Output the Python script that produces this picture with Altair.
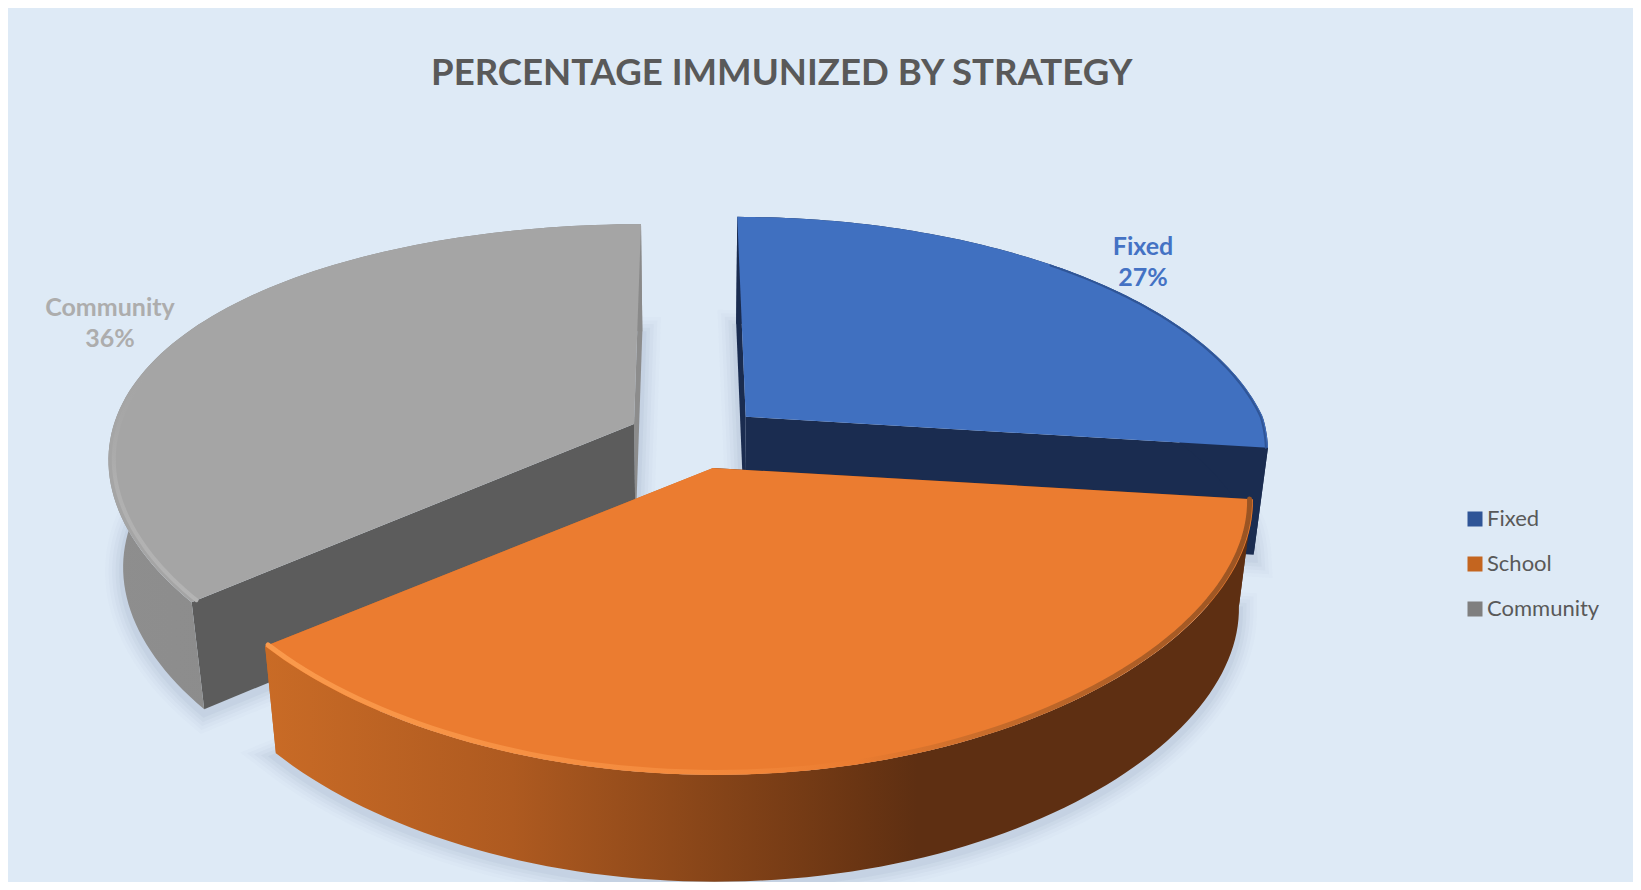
import math
import altair as alt
import pandas as pd

# ---- values
categories = ["Fixed", "School", "Community"]
shares = [27, 37, 36]
labelled = ["Fixed", "Community"]
title_text = "PERCENTAGE IMMUNIZED BY STRATEGY"

# ---- style
top_colors = ["#4070C0", "#EB7C30", "#A5A5A5"]
label_colors = {"Fixed": "#4472C4", "Community": "#ADADAD"}
apex = {"Fixed": (737.7, 408.7), "School": (705, 460), "Community": (626, 416)}
radius_x = {"Fixed": 517, "School": 535, "Community": 520}
back_taper = {"Fixed": 0.20, "School": 0.13, "Community": 0.13}
label_pos = {"Fixed": (1135, 239), "Community": (102, 300)}
paint_order = ["Community", "Fixed", "School"]
PW, PH = 1625, 874
AY, BX_FRONT, BY, VX, DEPTH, NARROW = 242, 0.13, 0.211, 687, 107, 0.975

# cumulative angles from the shares, clockwise from 12 o'clock
angles = {}
run = 0
for c, s in zip(categories, shares):
    angles[c] = (run / sum(shares) * 2 * math.pi, (run + s) / sum(shares) * 2 * math.pi)
    run += s


def project(c, r, th, bottom=False):
    ax, ay = apex[c]
    u, w = r * math.sin(th), -r * math.cos(th)
    bx = BX_FRONT if w > 0 else back_taper[c]
    x = VX + (ax + radius_x[c] * u - VX) / (1 - bx * w)
    y = ay + AY * w / (1 - BY * w)
    if bottom:
        x = VX + (x - VX) * NARROW
        y += DEPTH
    return x, y


def arc(c, t0, t1, r=1.0, bottom=False, n=90):
    return [project(c, r, t0 + (t1 - t0) * i / n, bottom) for i in range(n + 1)]


def frame(pts, name=""):
    return pd.DataFrame(
        [{"x": p[0], "y": p[1], "i": i, "slice": name} for i, p in enumerate(pts)]
    )


X = alt.X("x:Q", axis=None, scale=alt.Scale(domain=[0, PW], nice=False, zero=False))
Y = alt.Y("y:Q", axis=None, scale=alt.Scale(domain=[PH, 0], nice=False, zero=False))
O = alt.Order("i:Q")


def poly(pts, fill):
    return (
        alt.Chart(frame(pts))
        .mark_line(fill=fill, strokeOpacity=0, strokeWidth=0, interpolate="linear", clip=False)
        .encode(x=X, y=Y, order=O)
    )


def stroke(pts, color, width, opacity=1.0):
    return (
        alt.Chart(frame(pts))
        .mark_line(stroke=color, strokeWidth=width, opacity=opacity, strokeCap="round")
        .encode(x=X, y=Y, order=O)
    )


def hgrad(stops, vertical=False):
    return {
        "gradient": "linear",
        "x1": 0, "y1": 0,
        "x2": 0 if vertical else 1,
        "y2": 1 if vertical else 0,
        "stops": [{"offset": o, "color": col} for o, col in stops],
    }


wall_outer = {
    "Community": hgrad([(0, "#8E8E8E"), (0.5, "#8A8A8A"), (1, "#8A8A8A")]),
    "Fixed": "#1A2C50",
    "School": hgrad([(0, "#C96B26"), (0.25, "#AE5A20"), (0.6, "#6A3513"), (0.66, "#5E2F12"), (1, "#5E2F12")]),
}
wall_radial_start = {"Community": "#5C5C5C", "Fixed": "#1A2C50", "School": "#5E2F12"}
wall_radial_end = {"Community": "#8C8C8C", "Fixed": "#1A2C50", "School": "#C96B26"}
rim = {
    "Community": (hgrad([(0, "rgba(165,165,165,0)"), (0.5, "rgba(178,178,178,0.8)"), (1, "#B4B4B4")], True), 4, 0.99),
    "Fixed": ("#2F5597", 2, 0.996),
    "School": (hgrad([(0, "#FA9A4C"), (0.45, "#F3893C"), (0.6, "#EB7C30"), (0.75, "#C46A2A"), (1, "#9A5423")]), 5, 0.994),
}
rim_span = {
    "Community": lambda t0, t1: (t0, t0 + (t1 - t0) * 0.42),
    "Fixed": lambda t0, t1: (t0 + (t1 - t0) * 0.45, t1),
    "School": lambda t0, t1: (t0, t1),
}

layers = []

# soft shadow under the extruded slices
for c in paint_order:
    t0, t1 = angles[c]
    outline = [project(c, 0, 0, True)] + arc(c, t0, t1, bottom=True) + [project(c, 0, 0, True)]
    outline = [(x, y + 4) for x, y in outline]
    for w, op in ((36, 0.02), (29, 0.025), (22, 0.03), (15, 0.04), (8, 0.05)):
        layers.append(stroke(outline, "#4F6A85", w, op))

# slices, back to front
for c in paint_order:
    t0, t1 = angles[c]
    top_a = project(c, 0, 0)
    bot_a = project(c, 0, 0, True)
    layers.append(poly([top_a, project(c, 1, t1), project(c, 1, t1, True), bot_a], wall_radial_end[c]))
    layers.append(poly([top_a, project(c, 1, t0), project(c, 1, t0, True), bot_a], wall_radial_start[c]))
    layers.append(poly(arc(c, t0, t1) + arc(c, t0, t1, bottom=True)[::-1], wall_outer[c]))
    layers.append(poly([top_a] + arc(c, t0, t1), top_colors[categories.index(c)]))
    col, w, rr = rim[c]
    a, b = rim_span[c](t0, t1)
    layers.append(stroke(arc(c, a, b, r=rr), col, w))

# data labels
share_of = dict(zip(categories, shares))
rows = []
for c in labelled:
    lx, ly = label_pos[c]
    rows.append({"x": lx, "y": ly, "text": c, "color": label_colors[c]})
    rows.append({"x": lx, "y": ly + 31, "text": f"{share_of[c]}%", "color": label_colors[c]})
labels = (
    alt.Chart(pd.DataFrame(rows))
    .mark_text(font="Lato", fontSize=25, fontWeight="bold", align="center", baseline="middle")
    .encode(x=X, y=Y, text="text:N", color=alt.Color("color:N", scale=None, legend=None))
)
layers.append(labels)

# legend, carried by zero-size squares
legend_df = pd.DataFrame({"slice": categories, "x": [0, 0, 0], "y": [0, 0, 0]})
legend_layer = (
    alt.Chart(legend_df)
    .mark_point(shape="square", filled=True, size=0)
    .encode(
        x=X,
        y=Y,
        fill=alt.Fill(
            "slice:N",
            scale=alt.Scale(domain=categories, range=["#2F5597", "#C4651F", "#7F7F7F"]),
            sort=categories,
            legend=alt.Legend(
                title=None,
                orient="none",
                legendX=1456,
                legendY=500,
                symbolType="square",
                symbolSize=225,
                symbolOpacity=1,
                labelFont="Lato",
                labelFontSize=22,
                labelColor="#595959",
                labelOffset=1,
                rowPadding=23,
                labelLimit=300,
            ),
        ),
    )
)
layers.append(legend_layer)

chart = (
    alt.layer(*layers)
    .properties(
        width=PW,
        height=PH,
        padding=0,
        autosize=alt.AutoSizeParams(type="none"),
        background="#DEEAF6",
        title=alt.TitleParams(
            text=title_text,
            font="Lato",
            fontSize=36.6,
            fontWeight="bold",
            color="#595959",
            anchor="start",
            dx=423,
            offset=-85,
        ),
    )
    .configure_view(stroke=None)
)

chart.save("out.html", embed_options={"renderer": "svg", "actions": False})
